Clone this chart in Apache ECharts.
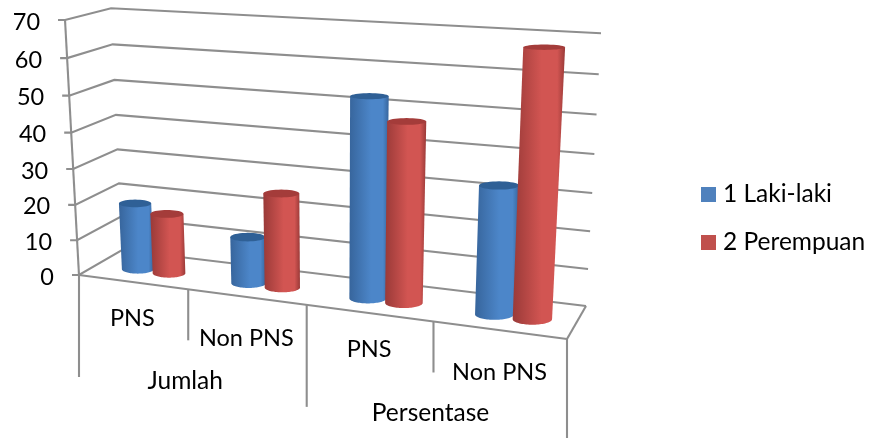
<!DOCTYPE html>
<html>
<head>
<meta charset="utf-8">
<style>html,body{margin:0;padding:0;background:#fff}#chart{width:873px;height:438px}</style>
<script src="https://cdn.jsdelivr.net/npm/echarts@6/dist/echarts.min.js"></script>
</head>
<body>
<div id="chart"></div>
<script>
// Data
const categories = ['PNS', 'Non PNS', 'PNS', 'Non PNS'];
const groups = ['Jumlah', 'Persentase'];
const lakiLaki = [19, 13, 53.5, 33.6];
const perempuan = [17, 26, 47.8, 68.2];
const valueTicks = [0, 10, 20, 30, 40, 50, 60, 70];
const seriesNames = ['1 Laki-laki', '2 Perempuan'];

// Styling
const FONT = 'Lato, "Open Sans", sans-serif';
const FONT_SIZE = 23.5;
const GROUP_FONT_SIZE = 24.5;
const LEGEND_FONT_SIZE = 24.5;
const TEXT = '#000000';
const LINE = { stroke: '#8e8e8e', lineWidth: 2.1, fill: 'none' };
const PALETTE = [
  { swatch: '#4f81bd', edge: '#37659c', mid: '#4c86c9', cap: '#2f6096' },
  { swatch: '#c0504d', edge: '#9a3a38', mid: '#d25552', cap: '#a43c3a' }
];

// Perspective box: floor quad in pixels plus a vertical vanishing point.
const FLOOR = [[79, 275], [567, 339], [586, 306], [122, 250]];
const VANISH = [333, 4908];
const HEIGHT_K = -0.05217;
const SPACING_TWEAK = 0.045;  // evens out the foreshortening along the front edge
const HEIGHT_FALLOFF = 0.021; // the box gets slightly shorter towards its right side

const cam = (() => {
  const [[x0, y0], [x1, y1], [x2, y2], [x3, y3]] = FLOOR;
  const sx = x0 - x1 + x2 - x3, sy = y0 - y1 + y2 - y3;
  const dx1 = x1 - x2, dx2 = x3 - x2, dy1 = y1 - y2, dy2 = y3 - y2;
  const den = dx1 * dy2 - dx2 * dy1;
  const g = (sx * dy2 - dx2 * sy) / den;
  const h = (dx1 * sy - sx * dy1) / den;
  return {
    a: x1 - x0 + g * x1, b: x3 - x0 + h * x3, c: x0,
    d: y1 - y0 + g * y1, e: y3 - y0 + h * y3, f: y0, g, h
  };
})();

// (across, depth, height), each 0..1, to screen pixels
function project(u0, d, v0) {
  const u = u0 + SPACING_TWEAK * u0 * u0 * (1 - u0);
  const v = v0 * (1 - HEIGHT_FALLOFF * u0);
  const w = cam.g * u + cam.h * d + 1 + HEIGHT_K * v;
  return [
    (cam.a * u + cam.b * d + cam.c + HEIGHT_K * VANISH[0] * v) / w,
    (cam.d * u + cam.e * d + cam.f + HEIGHT_K * VANISH[1] * v) / w
  ];
}

// Scale position from the hidden cartesian axes, normalised to 0..1
function unit(params, api, x, y) {
  const p = api.coord([x, y]);
  const r = params.coordSys;
  return [(p[0] - r.x) / r.width, (r.y + r.height - p[1]) / r.height];
}

function line(a, b) {
  return { type: 'line', shape: { x1: a[0], y1: a[1], x2: b[0], y2: b[1] }, style: LINE, silent: true };
}
function label(text, x, y, align, size) {
  return {
    type: 'text', silent: true,
    style: { text, x, y, align: align || 'center', verticalAlign: 'middle', font: (size || FONT_SIZE) + 'px ' + FONT, fill: TEXT }
  };
}

// Wall gridlines with their value labels
function renderGrid(params, api) {
  const val = api.value(0);
  const v = unit(params, api, 0, val)[1];
  const front = project(0, 0, v), back = project(0, 1, v), right = project(1, 1, v);
  const stub = [front[0] - 7, front[1]];
  return {
    type: 'group',
    children: [
      { type: 'polyline', shape: { points: [stub, front, back, right] }, style: LINE, silent: true },
      label(String(val), front[0] - 25, front[1] + 2, 'right')
    ]
  };
}

// Axis edge, floor edges and the category separators below the floor
const TICK_DROPS = [102, 51, 102, 51, 99];
function renderFrame(params, api) {
  const i = api.value(0);
  const u = unit(params, api, i, 0)[0];
  const p = project(u, 0, 0);
  const kids = [line(p, [p[0], p[1] + TICK_DROPS[i]])];
  if (i === 0) {
    kids.push(line(project(0, 0, 1), p));
    kids.push(line(p, project(1, 0, 0)));
    kids.push(line(project(1, 0, 0), project(1, 1, 0)));
  }
  return { type: 'group', children: kids };
}

const CATEGORY_DROPS = [36, 41, 36, 42];
function renderCategoryLabel(params, api) {
  const i = api.value(0);
  const u = unit(params, api, i + 0.5, 0)[0];
  const p = project(u, 0, 0);
  return label(categories[i], p[0], p[1] + CATEGORY_DROPS[i]);
}

function renderGroupLabel(params, api) {
  const i = api.value(0);
  const u = unit(params, api, i * 2 + 1, 0)[0];
  const p = project(u, 0, 0);
  return label(groups[i], p[0] - 3, p[1] + 92, 'center', GROUP_FONT_SIZE);
}

// One cylinder per value, with level caps and a shaded body
const BAR_OFFSET = 0.145;   // category units from the cluster centre
const BAR_SHIFT = 0.03;     // cluster nudge along the category axis
const RADIUS_U = 0.0375;    // across the floor
const RADIUS_D = 0.17;      // into the depth
const BAR_DEPTH = 0.42;
function ellipsePts(c, rx, ry, from, to) {
  const pts = [], n = 40;
  for (let k = 0; k <= n; k++) {
    const t = from + (to - from) * k / n;
    pts.push([c[0] + rx * Math.cos(t), c[1] + ry * Math.sin(t)]);
  }
  return pts;
}
function makeCylinder(seriesIndex, offset) {
  const pal = PALETTE[seriesIndex];
  return function (params, api) {
    const cat = api.value(0), val = api.value(1);
    const [u, v] = unit(params, api, cat + 0.5 + BAR_SHIFT + offset, val);
    const du = RADIUS_U, dd = RADIUS_D;
    const ring = h => {
      const c = project(u, BAR_DEPTH, h);
      const rx = (project(u + du, BAR_DEPTH, h)[0] - project(u - du, BAR_DEPTH, h)[0]) / 2;
      const ry = (project(u, BAR_DEPTH - dd, h)[1] - project(u, BAR_DEPTH + dd, h)[1]) / 2;
      return { c, rx, ry };
    };
    const top = ring(v), bot = ring(0);
    const body = [
      [top.c[0] - top.rx, top.c[1]],
      [top.c[0] + top.rx, top.c[1]]
    ].concat(ellipsePts(bot.c, bot.rx, bot.ry, 0, Math.PI));
    const fill = {
      type: 'linear', x: 0, y: 0, x2: 1, y2: 0,
      colorStops: [
        { offset: 0, color: pal.edge },
        { offset: 0.55, color: pal.mid },
        { offset: 0.85, color: pal.mid },
        { offset: 1, color: pal.edge }
      ]
    };
    return {
      type: 'group',
      children: [
        { type: 'polygon', shape: { points: body }, style: { fill } },
        { type: 'polygon', shape: { points: ellipsePts(top.c, top.rx, top.ry, 0, Math.PI * 2) }, style: { fill: pal.cap } }
      ]
    };
  };
}

const chart = echarts.init(document.getElementById('chart'), null, { renderer: 'canvas' });
const plain = { animation: false, silent: true, coordinateSystem: 'cartesian2d', type: 'custom', clip: false };
chart.setOption({
  animation: false,
  backgroundColor: '#ffffff',
  grid: { left: 80, right: 300, top: 20, bottom: 160 },
  xAxis: { type: 'value', min: 0, max: 4, interval: 1, show: false },
  yAxis: { type: 'value', min: 0, max: 70, interval: 10, show: false },
  legend: {
    orient: 'vertical', left: 696, top: 177, itemWidth: 15, itemHeight: 15, itemGap: 23,
    icon: 'rect', selectedMode: false,
    textStyle: { fontFamily: FONT, fontSize: LEGEND_FONT_SIZE, color: TEXT, padding: [0, 0, 0, 2] },
    data: seriesNames
  },
  series: [
    Object.assign({}, plain, { renderItem: renderGrid, data: valueTicks.map(v => [v]), encode: { y: 0 } }),
    Object.assign({}, plain, { renderItem: renderFrame, data: [0, 1, 2, 3, 4].map(i => [i]), encode: { x: 0 } }),
    Object.assign({}, plain, { renderItem: renderCategoryLabel, data: categories.map((_, i) => [i]), encode: { x: 0 } }),
    Object.assign({}, plain, { renderItem: renderGroupLabel, data: groups.map((_, i) => [i]), encode: { x: 0 } }),
    Object.assign({}, plain, {
      name: seriesNames[0], itemStyle: { color: PALETTE[0].swatch },
      renderItem: makeCylinder(0, -BAR_OFFSET), data: lakiLaki.map((v, i) => [i, v]), encode: { x: 0, y: 1 }
    }),
    Object.assign({}, plain, {
      name: seriesNames[1], itemStyle: { color: PALETTE[1].swatch },
      renderItem: makeCylinder(1, BAR_OFFSET), data: perempuan.map((v, i) => [i, v]), encode: { x: 0, y: 1 }
    })
  ]
});
</script>
</body>
</html>
